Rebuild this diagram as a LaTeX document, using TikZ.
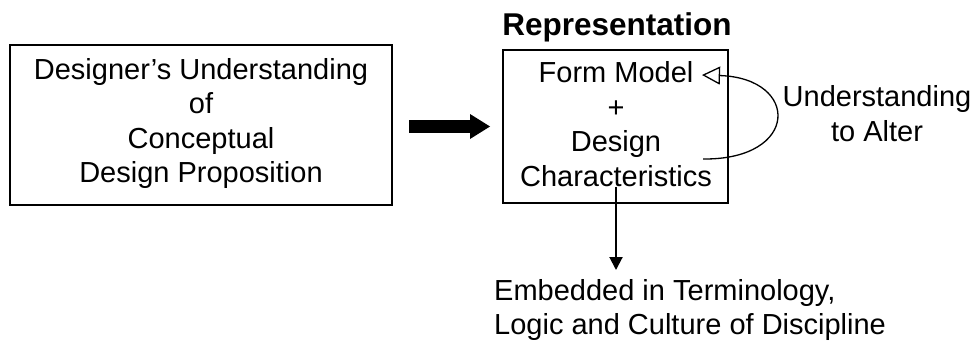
\documentclass[tikz,border=0pt]{standalone}
\usepackage{fontspec}
\setmainfont{Liberation Sans}
\usetikzlibrary{arrows.meta,calc}
\begin{document}
\begin{tikzpicture}[x=1pt,y=-1pt,
  txt/.style={font=\fontsize{29}{34.5}\selectfont, inner sep=0pt, align=center},
  frame/.style={draw, line width=2.5pt, inner sep=0pt, outer sep=0pt},
  fat/.style={line width=13pt, -{Triangle[length=20pt,width=25pt,line width=0pt]}},
  thin/.style={line width=2pt, -{Triangle[length=13pt,width=13pt]}},
  loop/.style={line width=1.3pt, -{Triangle[open,length=18pt,width=18pt]}},
]
\useasboundingbox (0,0) rectangle (973,340);

% the two boxes
\node[frame, minimum width=382pt, minimum height=160pt] (lbox) at (201,125) {};
\node[frame, minimum width=225pt, minimum height=153pt] (rbox) at (615.5,126.5) {};

% box contents
\node[txt] (ltext) at (201,123.25) {Designer’s Understanding\\of\\Conceptual\\Design Proposition};
\node[txt] (rtext) at (616,124.25) {Form Model\\+\\Design\\Characteristics};

% heading over the right box
\node[font=\bfseries\fontsize{31.5}{36}\selectfont, inner sep=0pt, anchor=base] (title) at (617,35) {Representation};

% side note and bottom note
\node[txt] (alter) at (877,113.75) {Understanding\\to Alter};
\node[txt, align=left, anchor=north west] (emb) at (494,279) {Embedded in Terminology,\\Logic and Culture of Discipline};

% connectors
\draw[fat, shorten <=17pt, shorten >=13pt] (lbox.east |- rbox.west) -- (rbox.west);
\draw[thin, shorten >=9pt] (rtext.south) -- (rtext.south |- emb.north);

\coordinate (cs) at (703,159);
\coordinate (ce) at (702,75);
\draw[loop] (cs) .. controls (800,160) and (800,78) .. (ce);
\end{tikzpicture}
\end{document}
